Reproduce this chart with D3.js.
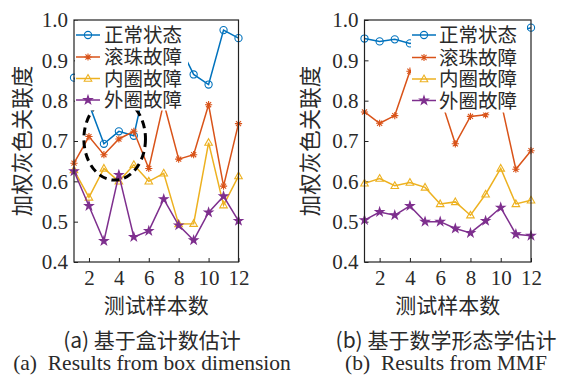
<!DOCTYPE html>
<html><head><meta charset="utf-8">
<script src="https://cdn.jsdelivr.net/npm/d3@7"></script>
<style>
html,body{margin:0;padding:0;background:#fff;}
svg{display:block;}
</style></head>
<body>
<svg id="c" width="561" height="377"></svg>
<script>
// ---------- data ----------
const samples = [1,2,3,4,5,6,7,8,9,10,11,12];
const xTicks = [2,4,6,8,10,12];
const yTicks = [0.4,0.5,0.6,0.7,0.8,0.9,1.0];
const seriesNames = ["正常状态","滚珠故障","内圈故障","外圈故障"];
// (a) box dimension
const boxNormal = [0.857,0.792,0.693,0.724,0.713,0.880,0.905,0.940,0.865,0.840,0.975,0.955];
const boxBall   = [0.645,0.711,0.666,0.705,0.724,0.632,0.795,0.655,0.666,0.790,0.588,0.743];
const boxInner  = [0.628,0.560,0.632,0.600,0.641,0.600,0.620,0.494,0.495,0.696,0.541,0.613];
const boxOuter  = [0.625,0.539,0.452,0.616,0.462,0.477,0.556,0.491,0.454,0.523,0.563,0.502];
// (b) MMF
const mmfNormal = [0.954,0.947,0.952,0.942,0.950,0.960,0.950,0.960,0.965,0.960,0.970,0.981];
const mmfBall   = [0.772,0.744,0.763,0.873,0.850,0.809,0.693,0.761,0.765,0.800,0.630,0.676];
const mmfInner  = [0.595,0.607,0.589,0.597,0.585,0.544,0.549,0.516,0.568,0.632,0.544,0.553];
const mmfOuter  = [0.504,0.524,0.516,0.539,0.500,0.500,0.483,0.472,0.502,0.535,0.469,0.465];
const yTitle = "加权灰色关联度";
const xTitle = "测试样本数";
const captionsCN = ["(a) 基于盒计数估计","(b) 基于数学形态学估计"];
const captionsEN = ["(a)  Results from box dimension","(b)  Results from MMF"];

const colors = ["#0072BD","#D95319","#EDB120","#7E2F8E"];
const markers = ["circle","asterisk","triangle","star"];
const textColor = "#2a2a2a";
const serif = "'Liberation Serif','Times New Roman',serif";
const cjk = "'Noto Sans CJK SC','Noto Sans',sans-serif";

const svg = d3.select("#c");

function markerPath(type, r){
  if(type==="circle"){
    return d3.symbol().type(d3.symbolCircle).size(Math.PI*r*r)();
  }
  if(type==="triangle"){
    return `M0,${-r*1.1}L${r*1.05},${r*0.75}L${-r*1.05},${r*0.75}Z`;
  }
  if(type==="asterisk"){
    let p="";
    for(let i=0;i<4;i++){
      const a=i*Math.PI/4;
      p+=`M${-r*Math.cos(a)},${-r*Math.sin(a)}L${r*Math.cos(a)},${r*Math.sin(a)}`;
    }
    return p;
  }
  if(type==="star"){
    return d3.symbol().type(d3.symbolStar).size(r*r/0.89)();
  }
}

function drawMarker(g, type, color, x, y){
  const r = type==="star"?4.4:3.6;
  const p = g.append("path").attr("d", markerPath(type, r))
    .attr("transform", `translate(${x},${y})`)
    .attr("stroke", color).attr("stroke-width", 1.1);
  if(type==="star") p.attr("fill", color);
  else p.attr("fill","none");
}

function panel(opt){
  const {left,right,top,bottom,series,legend,ellipse,titleX,idx} = opt;
  const x = d3.scaleLinear().domain([1,12]).range([left,right]);
  const y = d3.scaleLinear().domain([0.4,1.0]).range([bottom,top]);
  const g = svg.append("g");

  // axes (ticks inward)
  const ax = g.append("g").attr("transform",`translate(0,${bottom})`)
    .call(d3.axisBottom(x).tickValues(xTicks).tickSize(-4).tickPadding(8).tickFormat(d3.format("d")));
  const ay = g.append("g").attr("transform",`translate(${left},0)`)
    .call(d3.axisLeft(y).tickValues(yTicks).tickSize(-4).tickPadding(6).tickFormat(d3.format(".1f")));
  [ax,ay].forEach(a=>{
    a.select(".domain").remove();
    a.selectAll(".tick line").attr("stroke","#222").attr("stroke-width",1);
    a.selectAll(".tick text").attr("font-family",serif).attr("font-size",21).attr("fill",textColor);
  });

  // series
  const line = d3.line().x((d,i)=>x(samples[i])).y(d=>y(d));
  series.forEach((vals,k)=>{
    g.append("path").datum(vals).attr("d",line)
      .attr("fill","none").attr("stroke",colors[k]).attr("stroke-width",1.5);
    vals.forEach((v,i)=>drawMarker(g, markers[k], colors[k], x(samples[i]), y(v)));
  });

  // ellipse annotation
  if(ellipse){
    g.append("ellipse")
      .attr("cx", x(ellipse.cx)).attr("cy", y(ellipse.cy))
      .attr("rx", x(ellipse.cx+ellipse.rx)-x(ellipse.cx))
      .attr("ry", y(ellipse.cy)-y(ellipse.cy+ellipse.ry))
      .attr("fill","none").attr("stroke","#000").attr("stroke-width",3)
      .attr("stroke-dasharray","8,5");
  }

  // legend (white box, no border)
  const lg = g.append("g");
  lg.append("rect").attr("x",legend.x0).attr("y",top+0.5)
    .attr("width",legend.x1-legend.x0).attr("height",legend.y1-top).attr("fill","#fff");
  seriesNames.forEach((name,k)=>{
    const yy = legend.rows[k];
    lg.append("line").attr("x1",legend.lx0).attr("x2",legend.lx1).attr("y1",yy).attr("y2",yy)
      .attr("stroke",colors[k]).attr("stroke-width",1.5);
    drawMarker(lg, markers[k], colors[k], (legend.lx0+legend.lx1)/2, yy);
    lg.append("text").attr("x",legend.tx).attr("y",yy).attr("dy","0.36em")
      .attr("font-family",cjk).attr("font-size",19.5).attr("fill",textColor).text(name);
  });

  // frame
  g.append("rect").attr("x",left).attr("y",top).attr("width",right-left).attr("height",bottom-top)
    .attr("fill","none").attr("stroke","#222").attr("stroke-width",1.2);

  // axis titles
  g.append("text").attr("transform",`translate(${titleX},${(top+bottom)/2}) rotate(-90)`)
    .attr("text-anchor","middle").attr("dy","0.36em")
    .attr("font-family",cjk).attr("font-size",21.5).attr("fill",textColor).text(yTitle);
  g.append("text").attr("x",(left+right)/2).attr("y",305).attr("dy","0.36em")
    .attr("text-anchor","middle").attr("font-family",cjk).attr("font-size",21)
    .attr("fill",textColor).text(xTitle);
  // captions
  g.append("text").attr("x",opt.capX).attr("y",340).attr("dy","0.36em").attr("text-anchor","middle")
    .attr("font-family",cjk).attr("font-size",21).attr("fill",textColor)
    .style("white-space","pre").text(captionsCN[idx]);
  g.append("text").attr("x",opt.capX).attr("y",370).attr("text-anchor","middle")
    .attr("font-family",serif).attr("font-size",21.5).attr("fill",textColor)
    .style("white-space","pre").text(captionsEN[idx]);
}

panel({idx:0,left:74,right:238.5,top:20,bottom:262,titleX:22,
  series:[boxNormal,boxBall,boxInner,boxOuter],
  legend:{x0:75,x1:188,y1:110,lx0:76,lx1:100,tx:104,rows:[35,57,78.5,100]},
  ellipse:{cx:3.72,cy:0.705,rx:2.06,ry:0.102},
  capX:152});
panel({idx:1,left:364.5,right:531,top:20,bottom:262,titleX:310,
  series:[mmfNormal,mmfBall,mmfInner,mmfOuter],
  legend:{x0:411,x1:527,y1:112,lx0:412,lx1:436,tx:439,rows:[35,57.5,79,100.5]},
  ellipse:null,
  capX:446});
</script>
</body></html>
